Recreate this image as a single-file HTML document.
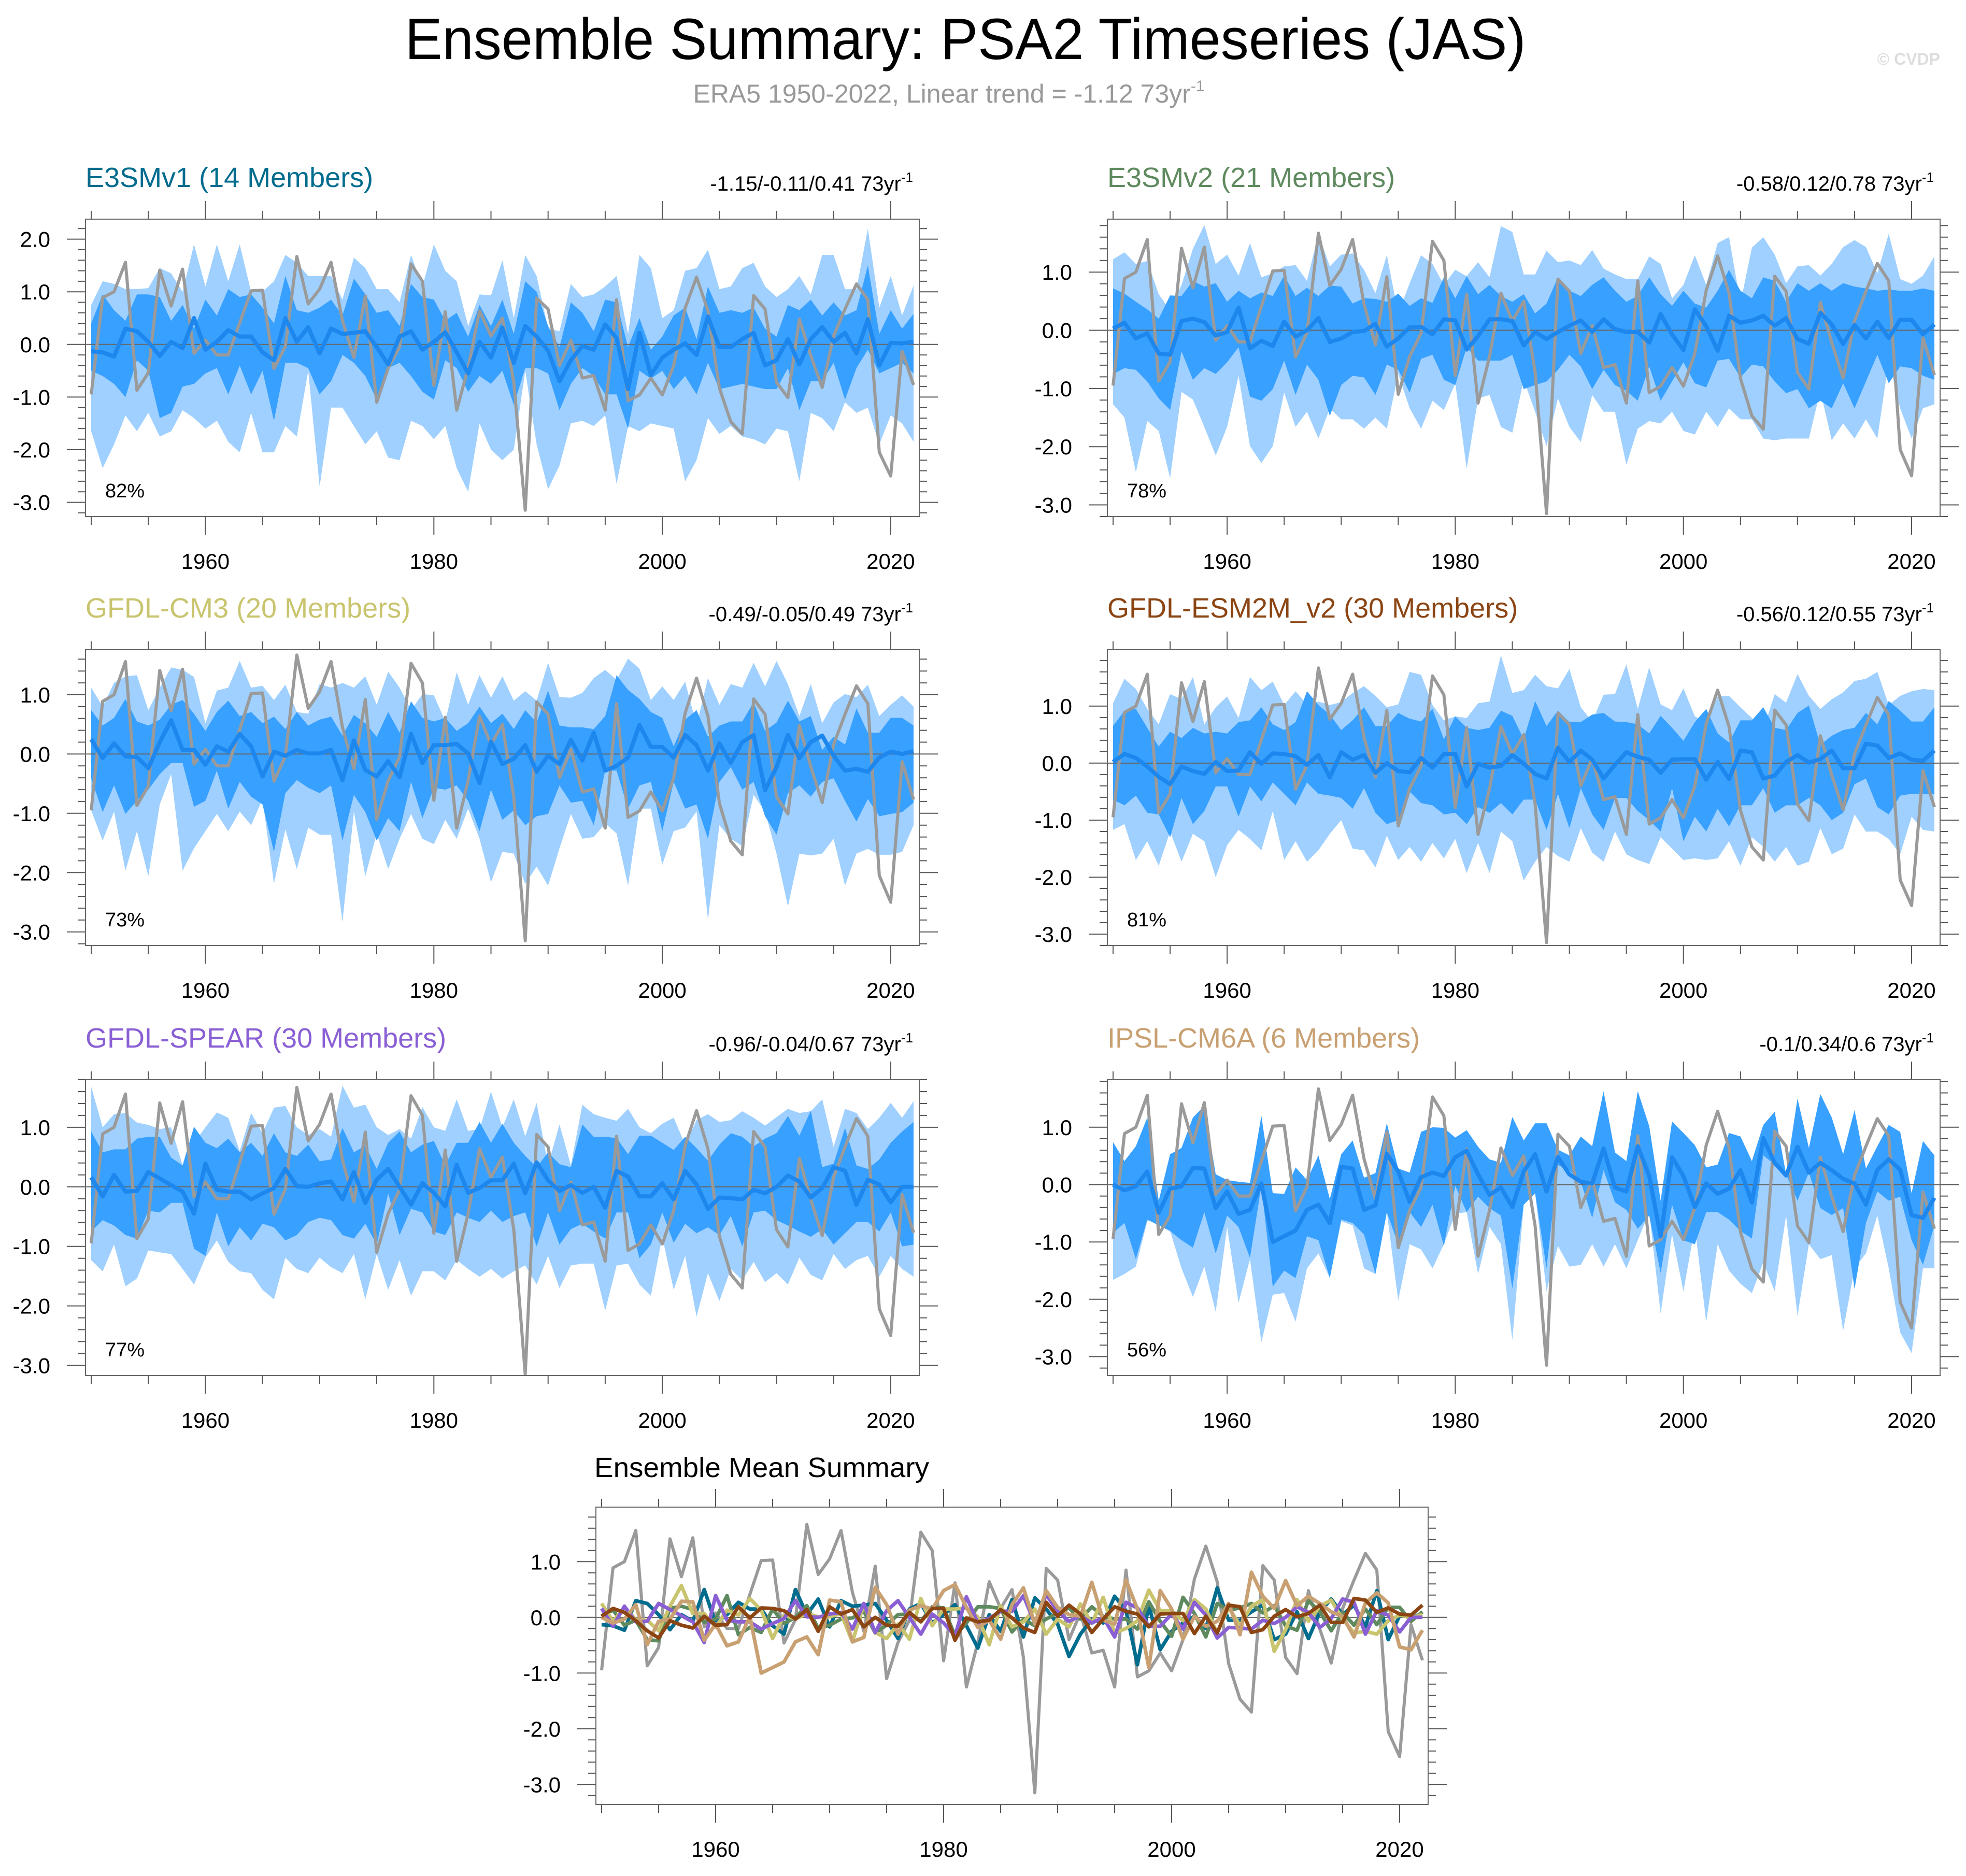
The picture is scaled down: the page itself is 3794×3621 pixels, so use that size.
<!DOCTYPE html>
<html><head><meta charset="utf-8">
<style>
html,body{margin:0;padding:0;background:#fff;}
svg{display:block;font-family:"Liberation Sans",Arial,sans-serif;}
</style></head>
<body>
<svg id="chart" xmlns="http://www.w3.org/2000/svg" width="3794" height="3621" viewBox="0 0 3794 3621">
<rect x="0" y="0" width="3794" height="3621" fill="#fff"/>
<text x="1863" y="114" font-size="112" text-anchor="middle" textLength="2163" lengthAdjust="spacingAndGlyphs" fill="#000">Ensemble Summary: PSA2 Timeseries (JAS)</text>
<text x="1831" y="198" font-size="50" text-anchor="middle" fill="#999">ERA5 1950-2022, Linear trend = -1.12 73yr<tspan dy="-22" font-size="30">-1</tspan></text>
<text x="3744" y="125" font-size="32" font-weight="bold" text-anchor="end" fill="#ddd">© CVDP</text>
<g id="plots"></g>
</svg>
<script>
// ---------- DATA ----------
const startYear = 1950;
const era5 = [-0.95,0.89,1.0,1.56,-0.87,-0.54,1.41,0.73,1.43,-0.17,0.08,-0.2,-0.2,0.41,1.02,1.03,-0.46,-0.04,1.67,0.77,1.05,1.56,0.45,-0.25,0.92,-1.1,-0.45,-0.05,1.53,1.2,-0.78,0.62,-1.25,-0.45,0.64,0.16,0.5,-0.72,-3.15,0.88,0.67,-0.4,0.08,-0.64,-0.59,-1.25,0.85,-1.07,-0.96,-0.64,-0.96,-0.4,0.69,1.28,0.64,-0.83,-1.47,-1.7,0.93,0.67,-0.72,-1.01,0.48,-0.21,-0.82,0.16,0.67,1.15,0.85,-2.05,-2.5,-0.13,-0.77];

// E3SMv1
const e3v1Mean = [-0.13,-0.15,-0.23,0.3,0.25,0.05,-0.22,0.05,-0.07,0.5,-0.1,0.05,0.27,0.15,0.15,-0.15,-0.3,0.5,0.05,0.33,-0.17,0.3,0.2,0.22,0.25,-0.05,-0.38,0.15,0.25,-0.1,0.05,0.23,-0.15,-0.55,0.05,-0.25,0.32,-0.35,0.35,0.15,-0.12,-0.7,-0.3,-0.03,-0.1,0.38,0.12,-0.85,0.22,-0.58,-0.25,-0.1,0.02,-0.2,0.53,-0.05,-0.05,0.1,0.22,-0.4,-0.3,0.1,-0.38,0.1,0.33,0.05,0.22,-0.17,0.48,-0.4,0.03,0.02,0.05];
const e3v1LightHi = [0.75,1.2,1.15,1.05,1.05,1.07,1.45,1.35,1.0,1.9,1.1,1.9,1.2,1.9,1.0,1.0,1.2,1.7,1.55,1.3,1.3,1.3,0.85,1.65,1.45,1.05,1.05,0.8,1.7,1.1,1.9,1.4,1.2,0.35,0.95,0.93,1.6,0.5,1.7,1.3,0.3,0.25,1.15,0.9,0.95,1.1,1.3,0.2,1.7,1.45,0.5,0.65,1.4,1.45,1.8,1.05,1.1,1.45,1.55,1.1,0.9,1.05,1.3,0.95,1.7,1.7,1.05,1.05,2.2,0.7,1.3,0.55,1.12];
const e3v1LightLo = [-1.65,-2.35,-1.9,-1.35,-1.65,-1.3,-1.75,-1.65,-1.25,-1.4,-1.6,-1.45,-1.85,-2.05,-1.3,-2.05,-2.05,-1.55,-1.75,-0.5,-2.7,-1.2,-1.2,-1.55,-1.9,-1.65,-2.15,-2.2,-1.45,-1.55,-1.8,-1.55,-2.35,-2.8,-1.5,-2.0,-2.2,-2.0,-0.5,-1.9,-2.75,-2.3,-1.5,-1.45,-1.55,-1.35,-2.65,-1.55,-1.65,-1.5,-1.55,-1.6,-2.6,-2.2,-1.4,-1.7,-1.55,-1.75,-1.8,-1.9,-1.6,-1.65,-2.6,-1.3,-1.4,-1.65,-1.1,-1.3,-1.2,-1.9,-1.35,-1.5,-1.85];
const e3v1DarkHi = [0.4,0.95,0.65,0.45,0.95,0.95,0.9,0.45,0.75,0.3,0.85,0.55,1.05,0.9,0.95,0.7,0.4,1.3,0.65,0.6,0.7,0.85,0.55,1.25,0.95,0.6,0.65,0.35,1.15,0.9,0.85,0.45,0.6,0.15,0.75,0.35,0.85,0.2,1.2,1.0,0.35,-0.05,0.8,0.6,0.25,0.85,0.8,-0.05,0.5,-0.1,0.15,0.55,0.7,0.1,1.1,0.6,0.65,0.6,0.7,0.3,0.15,0.75,0.65,0.85,0.55,0.8,0.55,0.65,1.5,0.2,0.65,0.3,0.58];
const e3v1DarkLo = [-0.5,-0.6,-0.75,-1.0,-0.3,-0.5,-1.4,-1.3,-0.8,-0.75,-0.55,-0.45,-0.95,-0.4,-0.95,-0.5,-1.45,-0.35,-0.35,-0.45,-0.95,-0.7,-0.2,-0.35,-0.6,-1.05,-0.45,-0.35,-0.6,-0.9,-1.05,-0.3,-0.45,-0.9,-0.6,-0.75,-0.5,-1.15,-0.45,-0.45,-0.55,-1.25,-0.75,-0.45,-0.6,-0.95,-0.95,-1.6,-0.5,-0.65,-0.5,-0.85,-0.6,-0.95,-0.35,-0.85,-0.8,-0.75,-0.8,-0.85,-0.85,-0.45,-1.25,-0.7,-0.7,-0.35,-1.05,-0.45,-0.1,-0.55,-0.45,-0.35,-0.55];

// E3SMv2
const e3v2Mean = [0.03,0.13,-0.14,-0.05,-0.4,-0.42,0.16,0.2,0.14,-0.09,-0.03,0.39,-0.31,-0.18,-0.27,0.15,-0.11,0,0.21,-0.2,-0.14,-0.03,-0.01,0.11,-0.28,-0.14,0.05,0.06,-0.07,0.19,0.17,-0.33,-0.1,0.19,0.19,0.16,-0.26,-0.03,-0.15,-0.03,0.08,0.17,-0.03,0.19,0.02,-0.03,-0.03,-0.21,0.28,-0.07,-0.34,0.36,0.07,-0.35,0.25,0.13,0.17,0.25,0.08,0.21,-0.15,-0.23,0.3,0.1,-0.24,0.09,-0.14,0.15,-0.13,0.18,0.18,-0.07,0.1];
const e3v2LightHi = [1.22,1.34,1.14,1.19,0.62,0.34,0.78,1.4,1.81,1.14,1.3,0.94,1.5,0.91,0.98,1.1,1.12,0.85,1.65,1.1,1.3,1.32,1.04,0.64,1.29,0.29,0.81,1.29,1.14,0.78,1.04,0.93,1.17,0.91,1.79,1.69,0.96,0.96,1.37,1.17,1.2,1.12,1.38,1.06,0.96,0.88,0.88,1.27,1.14,0.55,0.78,1.29,0.78,1.5,1.6,0.47,1.42,1.6,1.3,0.81,1.1,1.12,0.94,1.14,1.43,1.55,1.43,0.98,1.66,0.88,0.8,0.94,1.27];
const e3v2LightLo = [-1.27,-1.5,-2.44,-1.56,-1.73,-2.54,-1.06,-1.19,-1.66,-2.15,-1.66,-0.78,-1.99,-2.28,-1.99,-1.07,-1.66,-1.4,-1.86,-1.34,-1.53,-1.53,-1.69,-1.5,-1.69,-0.75,-1.34,-1.69,-1.21,-1.37,-0.91,-2.38,-1.17,-1.11,-1.66,-1.76,-0.85,-1.4,-1.99,-1.17,-1.66,-1.92,-1.11,-1.4,-1.4,-2.31,-1.69,-1.56,-1.6,-1.4,-1.73,-1.79,-1.4,-1.66,-1.34,-1.53,-1.53,-1.86,-1.89,-1.86,-1.86,-1.86,-1.04,-1.89,-1.6,-1.86,-1.53,-1.86,-0.52,-1.34,-1.86,-1.34,-1.27];
const e3v2DarkHi = [0.72,0.63,0.49,0.36,0.2,0.6,0.59,0.85,0.75,0.81,0.49,0.68,0.55,0.65,0.59,0.94,0.59,0.73,0.59,0.77,0.75,0.46,0.55,0.54,0.49,0.63,0.42,0.55,0.47,0.91,0.55,0.93,0.62,0.78,0.59,0.49,0.62,0.29,0.46,0.91,0.68,0.59,0.78,0.91,0.68,0.49,0.59,0.91,0.62,0.42,0.68,0.46,0.39,0.68,1.04,0.68,0.55,0.91,0.85,0.49,0.81,0.68,0.81,0.68,0.81,0.75,0.72,0.68,0.7,0.68,0.68,0.72,0.68];
const e3v2DarkLo = [-0.75,-0.65,-0.68,-0.88,-1.17,-1.37,-0.36,-0.85,-0.65,-0.75,-0.55,-0.29,-1.14,-1.21,-1.01,-0.52,-1.11,-0.59,-0.85,-1.47,-0.94,-0.78,-0.81,-1.11,-0.59,-0.68,-1.07,-0.49,-0.42,-0.85,-0.94,-0.29,-0.52,-0.52,-0.52,-0.42,-1.01,-0.94,-0.88,-0.68,-0.42,-0.62,-1.01,-0.68,-0.94,-1.04,-1.21,-0.62,-1.21,-0.88,-0.55,-0.91,-0.98,-0.52,-0.49,-0.81,-0.59,-0.62,-0.88,-1.08,-1.01,-1.34,-1.21,-1.34,-0.91,-1.34,-0.88,-0.42,-0.91,-0.62,-0.65,-0.78,-0.85];

// GFDL-CM3
const cm3Mean = [0.25,-0.07,0.18,-0.04,-0.05,-0.24,0.2,0.57,0.07,0.07,-0.18,0.13,0.04,0.34,0.13,-0.38,0.04,-0.03,0.07,0.01,0.01,0.07,-0.44,0.23,-0.27,-0.38,-0.12,-0.39,0.34,-0.15,0.15,0.15,0.17,0.01,-0.49,0.21,-0.17,-0.08,0.15,-0.3,-0.03,-0.17,0.24,-0.11,0.36,-0.28,-0.2,-0.06,0.49,0.12,0.12,-0.06,0.32,0.15,-0.28,0.18,-0.15,0.2,0.32,-0.61,-0.22,0.32,-0.07,0.2,0.31,-0.03,-0.28,-0.25,-0.3,-0.06,0.04,0.0,0.05];
const cm3LightHi = [1.12,0.8,1.2,1.31,1.33,0.74,1.12,1.46,1.42,1.3,0.52,1.07,1.12,1.57,1.12,1.15,0.91,1.17,0.71,0.68,1.18,1.12,1.2,1.12,1.31,0.83,1.39,1.12,0.74,1.01,0.99,0.55,1.38,0.83,1.33,0.95,1.31,0.9,1.06,0.9,1.54,0.96,0.95,1.03,1.28,1.42,1.25,1.61,1.44,0.91,1.14,0.91,1.22,0.48,1.28,0.83,1.18,1.12,1.54,1.14,1.57,1.18,0.64,1.18,0.52,0.87,1.01,0.96,1.17,0.64,0.83,0.99,0.8];
const cm3LightLo = [-0.95,-1.46,-0.97,-1.97,-1.3,-2.06,-0.85,-0.34,-1.97,-1.59,-1.3,-1.01,-1.3,-0.97,-1.2,-0.76,-2.19,-1.27,-1.94,-1.24,-1.36,-1.36,-2.83,-0.97,-2.06,-1.34,-1.94,-1.43,-1.01,-1.43,-1.52,-1.11,-1.43,-0.92,-1.43,-2.16,-1.65,-1.68,-2.19,-1.9,-2.22,-1.59,-1.01,-1.43,-1.4,-1.17,-1.34,-2.22,-0.92,-0.92,-1.87,-1.3,-1.24,-0.97,-2.79,-1.2,-1.43,-1.55,-0.69,-0.97,-1.68,-2.57,-1.68,-1.71,-1.68,-1.43,-2.22,-1.68,-1.6,-1.7,-1.7,-1.65,-1.2];
const cm3DarkHi = [0.74,0.48,0.61,0.93,0.55,0.48,0.58,0.83,0.91,0.68,0.39,0.71,0.9,0.64,0.71,0.52,0.63,0.42,0.71,0.48,0.58,0.63,0.31,0.66,0.52,0.29,0.71,0.36,0.89,0.61,0.55,0.61,0.39,0.52,0.8,0.52,0.68,0.42,0.74,0.53,1.07,0.48,0.45,0.45,0.42,0.64,1.33,1.08,0.93,0.71,0.61,0.13,0.58,0.74,0.29,0.48,0.55,0.55,0.87,0.39,0.53,0.9,0.55,0.64,0.07,0.29,0.16,0.77,0.36,0.36,0.61,0.61,0.48];
const cm3DarkLo = [-0.41,-0.98,-0.53,-1.01,-0.79,-0.6,-0.34,-0.15,-0.15,-0.89,-0.79,-0.28,-0.92,-0.47,-0.72,-0.85,-1.65,-0.66,-0.44,-0.57,-0.66,-0.53,-1.46,-0.69,-0.98,-1.46,-1.08,-1.3,-0.47,-1.08,-0.57,-0.6,-0.53,-0.79,-1.3,-0.6,-1.11,-0.95,-1.2,-1.05,-1.01,-0.53,-0.82,-0.79,-1.2,-0.28,-0.28,-0.92,-0.53,-0.47,-1.3,-0.47,-0.92,-0.85,-1.43,-0.47,-0.22,-0.6,-0.47,-1.05,-1.36,-0.66,-0.53,-0.72,-0.47,-0.41,-0.79,-1.14,-0.76,-1.05,-1.01,-0.98,-0.82];

// GFDL-ESM2M_v2
const esmMean = [0.02,0.16,0.09,-0.06,-0.24,-0.37,-0.06,-0.14,-0.19,0.02,-0.14,-0.13,0.19,-0.01,0.17,0.16,0.12,-0.03,0.14,-0.25,0.19,0.06,0.14,-0.17,0,-0.14,-0.16,0.09,-0.08,0.16,0.16,-0.41,-0.01,-0.08,-0.05,0.14,-0.01,-0.19,-0.27,0.27,0.02,0.22,0.06,-0.27,-0.03,0.19,0.11,0.06,-0.17,0.06,0.07,0.07,-0.29,0.02,-0.28,0.22,0.19,-0.27,-0.22,0.02,0.14,0.01,0.07,0.22,-0.09,-0.09,0.34,0.31,0.09,0.17,0.06,0.04,0.22];
const esmLightHi = [1.05,1.48,1.3,0.95,0.68,1.21,1.12,1.51,0.68,0.98,1.17,0.79,1.51,1.28,1.43,1.02,1.26,1.03,1.08,1.02,1.07,1.23,1.35,1.18,0.98,1.03,1.6,1.55,1.02,0.75,0.82,0.79,1.05,1.08,1.89,1.23,1.28,1.55,1.35,1.31,1.65,0.98,0.73,1.2,1.21,1.73,0.95,1.68,1.03,0.93,1.31,0.82,0.72,1.17,1.18,0.98,0.79,0.59,1.21,1.06,1.56,1.18,0.95,1.12,1.24,1.44,1.48,1.6,1.02,1.18,1.26,1.3,1.28];
const esmLightLo = [-1.17,-1.07,-1.7,-1.37,-1.8,-1.2,-1.73,-1.24,-1.37,-2.0,-1.44,-1.17,-1.33,-1.53,-0.84,-1.7,-1.37,-1.73,-1.53,-1.24,-1.0,-1.5,-1.53,-1.83,-1.27,-1.7,-1.47,-1.73,-1.4,-1.67,-1.33,-1.93,-1.4,-1.93,-1.2,-1.37,-2.06,-1.73,-1.47,-1.63,-1.73,-1.14,-1.57,-1.73,-1.2,-1.6,-1.7,-1.77,-1.3,-1.5,-1.7,-1.67,-1.7,-1.67,-1.37,-1.8,-1.3,-1.47,-1.73,-1.47,-1.8,-1.73,-1.14,-1.6,-1.5,-0.9,-1.2,-1.2,-1.33,-1.6,-0.94,-1.17,-1.2];
const esmDarkHi = [0.65,0.92,0.95,0.62,0.29,0.55,0.44,0.62,0.52,0.55,0.52,0.72,0.75,0.98,0.68,0.58,0.72,1.26,1.02,0.85,0.58,0.75,0.98,0.65,0.65,0.88,0.78,0.73,0.95,0.42,0.82,0.62,0.58,0.62,0.92,0.83,0.42,1.09,0.65,0.92,0.72,0.72,0.85,0.88,0.73,0.72,0.68,0.52,0.83,0.62,0.39,0.72,0.95,0.52,0.36,0.75,0.75,0.98,0.62,0.58,0.88,1.01,0.32,0.48,0.58,0.62,0.88,0.68,1.09,0.92,0.73,0.73,0.98];
const esmDarkLo = [-0.64,-0.74,-0.57,-0.87,-0.9,-1.3,-0.61,-1.07,-0.84,-0.41,-0.41,-0.94,-0.41,-0.67,-0.34,-0.54,-0.74,-0.34,-0.54,-0.57,-0.61,-0.8,-0.44,-0.87,-1.07,-1.0,-0.5,-0.7,-0.74,-0.9,-0.87,-1.07,-0.77,-0.87,-0.7,-0.9,-0.64,-0.64,-1.17,-0.54,-1.14,-0.44,-0.9,-1.17,-0.61,-0.61,-0.84,-1.0,-1.2,-0.44,-1.37,-0.94,-1.2,-0.8,-1.11,-0.74,-0.74,-0.44,-0.87,-0.74,-0.74,-0.61,-0.74,-1.0,-0.87,-0.37,-0.27,-0.77,-0.9,-0.57,-0.54,-0.54,-0.54];

// GFDL-SPEAR
const spearMean = [0.16,-0.16,0.2,-0.08,-0.07,0.25,0.14,0.03,-0.08,-0.45,0.39,-0.05,-0.08,-0.08,-0.21,-0.11,-0.02,0.3,0.01,0,0.06,0.09,-0.21,0.25,-0.27,0.12,0.3,0,-0.3,0.06,-0.1,-0.33,0.37,-0.1,-0.02,0.11,0.11,0.39,-0.11,0.41,0.11,-0.07,0.03,-0.1,0,-0.35,0.27,0.17,-0.16,-0.16,0.06,-0.21,0.27,0.04,-0.37,-0.18,-0.19,-0.21,-0.05,-0.11,0,0.19,0.09,-0.18,-0.02,0.33,0.27,-0.3,0.12,0.04,-0.26,0,0];
const spearLightHi = [1.68,1.0,1.22,1.24,1.08,1.04,0.97,1.0,0.36,0.74,1.0,1.25,1.16,0.6,1.24,0.9,1.33,1.36,1.0,0.87,0.97,0.84,1.7,1.33,1.38,1.0,0.87,0.97,0.81,1.34,1.0,0.94,1.47,0.94,0.97,1.6,1.0,1.47,0.85,1.41,0.36,1.05,0.36,1.38,1.22,1.16,1.11,1.31,1.0,0.9,1.06,1.16,0.71,1.12,1.22,1.09,1.12,1.27,1.16,1.03,1.17,1.31,1.24,1.27,1.47,0.67,1.31,1.24,0.97,1.16,1.41,1.16,1.44];
const spearLightLo = [-1.23,-1.42,-0.97,-1.67,-1.54,-1.07,-1.1,-1.13,-1.38,-1.64,-1.19,-0.9,-1.26,-1.42,-1.45,-1.73,-1.89,-1.19,-1.38,-1.45,-1.19,-1.35,-1.45,-1.13,-1.89,-1.13,-1.73,-1.23,-1.83,-1.42,-1.42,-1.57,-1.23,-1.38,-1.51,-1.38,-1.54,-1.42,-1.32,-1.64,-1.16,-1.7,-1.32,-1.29,-1.29,-2.08,-1.32,-1.29,-1.64,-1.83,-0.84,-1.73,-1.16,-2.18,-1.45,-1.92,-1.38,-1.57,-1.26,-1.6,-1.45,-1.64,-1.19,-1.48,-1.57,-1.13,-1.38,-1.23,-1.16,-1.51,-1.16,-1.38,-1.51];
const spearDarkHi = [0.93,0.58,0.63,0.63,0.81,0.84,0.84,0.49,0.36,1.01,0.74,0.65,0.81,0.58,0.74,0.52,0.9,0.58,0.52,0.71,0.43,0.46,0.99,0.58,0.69,0.3,0.74,0.93,0.58,0.71,0.77,0.36,0.74,0.74,1.09,0.74,1.06,0.74,0.52,0.33,0.58,0.38,0.33,1.05,0.84,0.84,0.82,0.55,0.86,0.86,0.74,0.62,0.84,0.65,0.44,0.71,0.9,0.84,0.68,0.81,0.9,1.19,0.86,1.28,0.33,0.39,0.99,0.36,0.3,0.46,0.74,0.93,1.09];
const spearDarkLo = [-0.75,-0.56,-0.65,-0.81,-0.87,-0.4,-0.43,-0.27,-0.27,-1.04,-1.16,-0.43,-1.0,-0.68,-0.9,-0.62,-0.68,-0.9,-0.81,-0.59,-0.52,-0.56,-0.81,-0.87,-0.62,-0.97,-0.11,-0.81,-0.37,-0.43,-0.75,-0.81,-0.43,-0.52,-0.59,-0.4,-0.59,-0.49,-0.43,-1.0,-0.43,-0.97,-0.71,-0.62,-0.75,-0.87,-0.43,-0.43,-1.2,-0.97,-0.43,-0.94,-0.62,-0.78,-0.68,-0.81,-0.49,-1.0,-0.43,-0.4,-0.56,-0.65,-0.75,-0.84,-0.71,-0.97,-0.78,-0.59,-0.59,-0.75,-0.43,-1.0,-0.97];

// IPSL-CM6A
const ipslMean = [0,-0.1,-0.03,0.23,-0.49,-0.07,-0.03,0.29,0.28,-0.41,-0.12,-0.51,-0.44,0.02,-1.0,-0.9,-0.8,-0.44,-0.35,-0.67,0.31,0.28,-0.44,-0.36,0.54,0.23,-0.3,0.13,0.21,0.15,0.48,0.59,0.18,-0.18,-0.05,-0.39,0.23,0.53,-0.12,0.48,0.18,0.05,0.02,0.63,-0.05,-0.12,0.67,0.15,-0.9,0.48,0.15,-0.39,0.02,-0.16,-0.07,0.25,-0.31,0.81,0.38,0.16,0.66,0.21,0.38,0.25,0.1,0.02,-0.35,0.26,0.44,0.26,-0.53,-0.58,-0.23];
const ipslLightHi = [0.7,0.4,0.65,1.1,-0.3,0.5,0.6,1.1,1.3,0.15,0.05,0.02,0.0,1.15,-0.2,-0.2,0.25,0.05,0.45,-0.3,0.5,0.7,0.1,0.15,1.0,0.25,0.2,0.9,0.95,0.95,0.8,0.9,0.6,0.4,0.35,1.1,0.7,1.0,1.0,0.55,0.45,0.8,0.6,1.55,0.5,0.4,1.55,1.0,-0.3,1.05,0.85,0.65,0.25,0.3,0.85,0.8,0.35,1.0,1.2,0.15,1.45,0.6,1.5,1.1,0.5,1.25,0.25,0.6,1.0,0.9,-0.2,0.7,0.45];
const ipslLightLo = [-1.66,-1.56,-1.43,-0.64,-0.54,-0.81,-1.46,-1.96,-1.43,-2.22,-0.74,-2.06,-1.3,-2.75,-1.92,-1.89,-2.39,-1.46,-1.2,-1.63,-0.64,-0.71,-1.46,-1.56,-0.48,-2.02,-1.04,-1.13,-1.46,-1.04,-0.51,-0.48,-1.56,-0.74,-1.04,-2.71,-0.35,-0.15,-1.86,-1.07,-1.43,-1.4,-1.04,-1.43,-1.04,-1.46,-0.97,-0.48,-2.25,-0.87,-1.86,-0.74,-2.39,-1.04,-1.5,-1.73,-1.89,-1.36,-1.86,-0.54,-2.29,-1.04,-1.3,-1.23,-2.55,-1.46,-1.2,-0.54,-1.46,-2.58,-2.94,-1.46,-1.46];
const ipslDarkHi = [0.74,0.41,0.67,1.17,-0.28,0.53,0.64,1.17,1.37,0.18,0.08,0.05,0.03,1.2,-0.15,-0.16,0.3,0.08,0.51,-0.25,0.53,0.77,0.12,0.2,1.07,0.28,0.21,0.92,1.0,0.99,0.82,0.95,0.66,0.44,0.38,1.18,0.77,1.07,1.07,0.61,0.51,0.84,0.67,1.63,0.56,0.41,1.63,1.02,-0.28,1.1,0.9,0.69,0.3,0.35,0.9,0.84,0.41,1.04,1.27,0.18,1.5,0.64,1.58,1.17,0.53,1.3,0.28,0.67,1.04,0.92,-0.15,0.76,0.51];
const ipslDarkLo = [-0.84,-0.67,-1.3,-0.61,-0.71,-0.81,-0.97,-1.1,-0.48,-1.2,-0.54,-0.74,-1.28,-0.02,-1.78,-1.5,-1.63,-0.9,-0.97,-1.63,-0.61,-0.67,-0.87,-1.56,-0.48,-1.04,-0.48,-0.74,-0.35,-1.07,-0.02,-0.48,-0.21,-0.41,-0.54,-1.81,-0.35,-0.15,-1.46,0.34,0.25,0.05,-0.58,0.25,-0.31,-0.44,-0.77,-0.54,-1.54,-0.35,-0.97,-1.04,-0.48,-0.48,-0.61,-0.81,-0.94,0.51,0.35,0.18,-0.28,0.21,-0.41,-0.53,-0.41,-1.82,-0.67,-0.12,-0.28,-0.21,-0.97,-1.4,-0.71];

const modelNames = ["E3SMv1 (14 Members)","E3SMv2 (21 Members)","GFDL-CM3 (20 Members)","GFDL-ESM2M_v2 (30 Members)","GFDL-SPEAR (30 Members)","IPSL-CM6A (6 Members)"];
const trendLabels = ["-1.15/-0.11/0.41 73yr","-0.58/0.12/0.78 73yr","-0.49/-0.05/0.49 73yr","-0.56/0.12/0.55 73yr","-0.96/-0.04/0.67 73yr","-0.1/0.34/0.6 73yr"];
const pctLabels = ["82%","78%","73%","81%","77%","56%"];
const xTickLabels = [1960,1980,2000,2020];

// ---------- LAYOUT / STYLE ----------
const NS = "http://www.w3.org/2000/svg";
const root = document.getElementById('plots');
const modelColors = ["#006c8e","#5f8a5f","#c9c46e","#8b4513","#8a5fd4","#c8a072"];
const panels = [
  {key:"e3v1", L:165, T:423, W:1609, H:574, ymin:-3.27, ymax:2.38, mean:e3v1Mean, lh:e3v1LightHi, ll:e3v1LightLo, dh:e3v1DarkHi, dl:e3v1DarkLo},
  {key:"e3v2", L:2137, T:423, W:1607, H:574, ymin:-3.2, ymax:1.91, mean:e3v2Mean, lh:e3v2LightHi, ll:e3v2LightLo, dh:e3v2DarkHi, dl:e3v2DarkLo},
  {key:"cm3", L:165, T:1254, W:1609, H:571, ymin:-3.23, ymax:1.76, mean:cm3Mean, lh:cm3LightHi, ll:cm3LightLo, dh:cm3DarkHi, dl:cm3DarkLo},
  {key:"esm", L:2137, T:1254, W:1607, H:571, ymin:-3.2, ymax:1.99, mean:esmMean, lh:esmLightHi, ll:esmLightLo, dh:esmDarkHi, dl:esmDarkLo},
  {key:"spear", L:165, T:2084, W:1609, H:571, ymin:-3.17, ymax:1.8, mean:spearMean, lh:spearLightHi, ll:spearLightLo, dh:spearDarkHi, dl:spearDarkLo},
  {key:"ipsl", L:2137, T:2084, W:1607, H:571, ymin:-3.33, ymax:1.83, mean:ipslMean, lh:ipslLightHi, ll:ipslLightLo, dh:ipslDarkHi, dl:ipslDarkLo}
];

function mk(tag, parent){ const e=document.createElementNS(NS, tag); parent.appendChild(e); return e; }
function fmt(v){ return v.toFixed(1); }

function axes(p, g, name){
  const xs = y => p.L + (y - 1949.5) / 73 * p.W;
  const ys = v => p.T + (p.ymax - v) / (p.ymax - p.ymin) * p.H;
  let d = "";
  for (let yr = 1950; yr <= 2020; yr += 5) {
    const len = (yr % 20 === 0) ? 35 : 16;
    const x = xs(yr).toFixed(1);
    d += `M${x},${p.T}V${p.T-len}M${x},${p.T+p.H}V${p.T+p.H+len}`;
  }
  const lo = Math.ceil(p.ymin * 5), hi = Math.floor(p.ymax * 5);
  for (let k = lo; k <= hi; k++) {
    const v = k / 5;
    const major = (k % 5 === 0);
    const len = major ? 36 : 15;
    const y = ys(v).toFixed(1);
    d += `M${p.L},${y}H${p.L-len}M${p.L+p.W},${y}H${p.L+p.W+len}`;
  }
  const t = mk('path', g);
  
  
  t.setAttribute('d', d); t.setAttribute('stroke', '#555'); t.setAttribute('stroke-width', '2'); t.setAttribute('fill', 'none');
  for (let k = Math.ceil(p.ymin); k <= Math.floor(p.ymax); k++) {
    const tx = mk('text', g);
    
    
    tx.setAttribute('x', p.L - 68); tx.setAttribute('y', ys(k) + 15);
    tx.setAttribute('font-size', '42'); tx.setAttribute('text-anchor', 'end');
    tx.textContent = fmt(k);
  }
  xTickLabels.forEach(yr => {
    const tx = mk('text', g);
    
    
    tx.setAttribute('x', xs(yr)); tx.setAttribute('y', p.T + p.H + 101);
    tx.setAttribute('font-size', '42'); tx.setAttribute('text-anchor', 'middle');
    tx.textContent = yr;
  });
  return {xs, ys};
}

function linePath(arr, xs, ys){
  const n = Math.min(arr.length, 73);
  let d = "";
  for (let i = 0; i < n; i++) d += (i ? "L" : "M") + xs(startYear + i).toFixed(1) + "," + ys(arr[i]).toFixed(1);
  return d;
}
function bandPath(hiArr, loArr, xs, ys){
  const n = Math.min(hiArr.length, loArr.length, 73);
  let d = "";
  for (let i = 0; i < n; i++) d += (i ? "L" : "M") + xs(startYear + i).toFixed(1) + "," + ys(hiArr[i]).toFixed(1);
  for (let i = n - 1; i >= 0; i--) d += "L" + xs(startYear + i).toFixed(1) + "," + ys(loArr[i]).toFixed(1);
  return d + "Z";
}

panels.forEach((p, idx) => {
  const g = mk('g', root);
  
  
  const clipId = 'clip-' + p.key;
  const cp = mk('clipPath', g); cp.setAttribute('id', clipId);
  const cr = mk('rect', cp); cr.setAttribute('x', p.L); cr.setAttribute('y', p.T); cr.setAttribute('width', p.W); cr.setAttribute('height', p.H);
  const {xs, ys} = axes(p, g, p.key);
  const inner = mk('g', g); inner.setAttribute('clip-path', `url(#${clipId})`);
  
  

  const lb = mk('path', inner);
  
  
  lb.setAttribute('d', bandPath(p.lh, p.ll, xs, ys)); lb.setAttribute('fill', '#9fd0ff');

  const db = mk('path', inner);
  
  
  db.setAttribute('d', bandPath(p.dh, p.dl, xs, ys)); db.setAttribute('fill', '#38a0ff');

  const z = mk('line', inner);
  
  
  z.setAttribute('x1', p.L); z.setAttribute('x2', p.L + p.W); z.setAttribute('y1', ys(0)); z.setAttribute('y2', ys(0));
  z.setAttribute('stroke', '#666'); z.setAttribute('stroke-width', '2');

  const ob = mk('path', inner);
  
  
  ob.setAttribute('d', linePath(era5, xs, ys)); ob.setAttribute('fill', 'none'); ob.setAttribute('stroke', '#9a9a9a'); ob.setAttribute('stroke-width', '6'); ob.setAttribute('stroke-linejoin', 'round');

  const ml = mk('path', inner);
  
  
  ml.setAttribute('d', linePath(p.mean, xs, ys)); ml.setAttribute('fill', 'none'); ml.setAttribute('stroke', '#1e87ee'); ml.setAttribute('stroke-width', '8'); ml.setAttribute('stroke-linejoin', 'round');

  const bx = mk('rect', g);
  
  
  bx.setAttribute('x', p.L); bx.setAttribute('y', p.T); bx.setAttribute('width', p.W); bx.setAttribute('height', p.H);
  bx.setAttribute('fill', 'none'); bx.setAttribute('stroke', '#666'); bx.setAttribute('stroke-width', '2');

  const title = mk('text', g);
  
  
  title.setAttribute('x', p.L); title.setAttribute('y', p.T - 62);
  title.setAttribute('font-size', '54'); title.setAttribute('fill', modelColors[idx]);
  title.textContent = modelNames[idx];

  const tr = mk('text', g);
  
  
  tr.setAttribute('x', p.L + p.W - 12); tr.setAttribute('y', p.T - 55);
  tr.setAttribute('font-size', '40'); tr.setAttribute('text-anchor', 'end');
  tr.textContent = trendLabels[idx];
  const sup = mk('tspan', tr); sup.setAttribute('dy', '-17'); sup.setAttribute('font-size', '26'); sup.textContent = '-1';

  const pc = mk('text', g);
  
  
  pc.setAttribute('x', p.L + 38); pc.setAttribute('y', p.T + p.H - 37);
  pc.setAttribute('font-size', '38');
  pc.textContent = pctLabels[idx];
});

// ---------- ENSEMBLE MEAN SUMMARY ----------
const summaryMeans = [e3v1Mean, e3v2Mean, cm3Mean, esmMean, spearMean, ipslMean];
const summaryOrder = [0, 1, 2, 4, 5, 3];
(function(){
  const p = {L:1150, T:2909, W:1606, H:574, ymin:-3.36, ymax:1.98};
  const g = mk('g', root);
  
  
  const cp = mk('clipPath', g); cp.setAttribute('id', 'clip-sum');
  const cr = mk('rect', cp); cr.setAttribute('x', p.L); cr.setAttribute('y', p.T); cr.setAttribute('width', p.W); cr.setAttribute('height', p.H);
  const {xs, ys} = axes(p, g, 'summary');
  const inner = mk('g', g); inner.setAttribute('clip-path', 'url(#clip-sum)');
  
  
  const z = mk('line', inner);
  
  
  z.setAttribute('x1', p.L); z.setAttribute('x2', p.L + p.W); z.setAttribute('y1', ys(0)); z.setAttribute('y2', ys(0));
  z.setAttribute('stroke', '#666'); z.setAttribute('stroke-width', '2');
  const ob = mk('path', inner);
  
  
  ob.setAttribute('d', linePath(era5, xs, ys)); ob.setAttribute('fill', 'none'); ob.setAttribute('stroke', '#9a9a9a'); ob.setAttribute('stroke-width', '6'); ob.setAttribute('stroke-linejoin', 'round');
  summaryOrder.forEach(i => {
    const l = mk('path', inner);
    
    
    l.setAttribute('d', linePath(summaryMeans[i], xs, ys)); l.setAttribute('fill', 'none');
    l.setAttribute('stroke', modelColors[i]); l.setAttribute('stroke-width', '7'); l.setAttribute('stroke-linejoin', 'round');
  });
  const bx = mk('rect', g);
  
  
  bx.setAttribute('x', p.L); bx.setAttribute('y', p.T); bx.setAttribute('width', p.W); bx.setAttribute('height', p.H);
  bx.setAttribute('fill', 'none'); bx.setAttribute('stroke', '#666'); bx.setAttribute('stroke-width', '2');
  const title = mk('text', g);
  
  
  title.setAttribute('x', 1147); title.setAttribute('y', 2851);
  title.setAttribute('font-size', '54');
  title.setAttribute('textLength', '646');
  title.setAttribute('lengthAdjust', 'spacingAndGlyphs');
  title.textContent = 'Ensemble Mean Summary';
})();
</script>
</body></html>
